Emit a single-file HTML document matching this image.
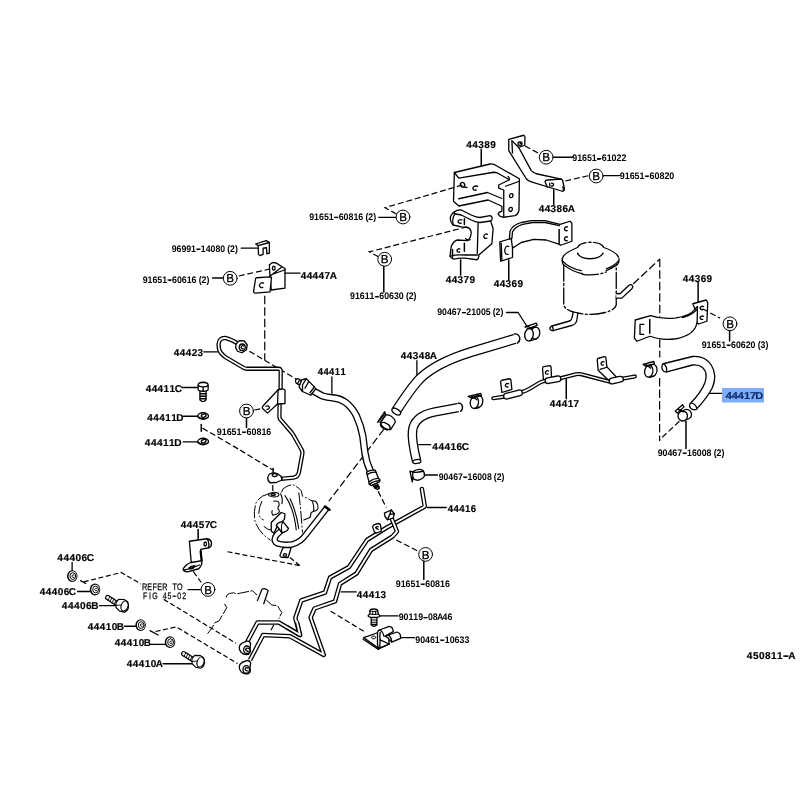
<!DOCTYPE html>
<html lang="en"><head><meta charset="utf-8"><title>Parts diagram 450811-A</title>
<style>
html,body{margin:0;padding:0;background:#fff;}
body{width:800px;height:800px;overflow:hidden;}
svg{display:block;will-change:transform;}
text{font-family:"Liberation Sans",sans-serif;fill:#000;text-rendering:geometricPrecision;}
.big{font-size:10px;font-weight:bold;stroke:#000;stroke-width:0.15px;}
.sm{font-size:9.5px;font-weight:bold;}
.mono{font-size:9.4px;stroke:#000;stroke-width:0.25px;}
.bl{font-size:11.6px;text-anchor:middle;stroke:#000;stroke-width:0.3px;}
.l{fill:none;stroke:#000;stroke-width:1.3;stroke-linecap:round;stroke-linejoin:round;vector-effect:non-scaling-stroke;}
.f{fill:#fff;stroke:#000;stroke-width:1.3;stroke-linecap:round;stroke-linejoin:round;vector-effect:non-scaling-stroke;}
.d{fill:none;stroke:#000;stroke-width:1.2;stroke-dasharray:6 2.8;vector-effect:non-scaling-stroke;}
.hy{fill:none;stroke:#000;stroke-linecap:butt;}
.ph{fill:none;stroke:#000;stroke-width:1;stroke-dasharray:12 1.6;stroke-linecap:butt;stroke-linejoin:round;vector-effect:non-scaling-stroke;}
.g path,.g circle,.g ellipse,.g line,.g polyline,.g polygon,.g rect{vector-effect:non-scaling-stroke;}
.t{fill:none;stroke:#000;stroke-linecap:butt;stroke-linejoin:round;vector-effect:non-scaling-stroke;}
.w{fill:none;stroke:#fff;stroke-linecap:butt;stroke-linejoin:round;vector-effect:non-scaling-stroke;}
</style></head><body>
<svg width="800" height="800" viewBox="0 0 800 800">
<rect width="800" height="800" fill="#fff"/>
<!-- 10_44389 -->
<g transform="translate(440 120) scale(0.125)">
<path class="l" style="stroke-width:1.5" d="M330 235V365"/>
<path class="f" d="M115 420L400 352Q430 348 455 368L635 470L632 720Q625 755 600 765L510 778Q475 775 465 750Q470 735 495 730L495 690L385 640L150 688L108 650Z"/>
<path class="l" d="M115 420L150 465L430 418Q455 418 470 430L555 478Q558 465 545 452"/>
<path class="l" d="M555 478L470 520L470 545L510 560L510 770"/>
<path class="l" d="M525 530L635 490"/>
<path class="l" d="M150 630L380 580L495 628"/>
<ellipse class="l" cx="180" cy="518" rx="17" ry="19" transform="rotate(-30 180 518)"/><path class="l" d="M185 535L215 540"/>
<path class="l" d="M300 530Q270 522 262 545Q265 565 290 560"/>
<ellipse class="l" cx="570" cy="605" rx="13" ry="17" transform="rotate(20 570 605)"/>
<ellipse class="l" cx="565" cy="715" rx="13" ry="17" transform="rotate(20 565 715)"/>
</g>
<!-- 11_44386A -->
<g transform="translate(500 130) scale(0.125)">
<path class="f" d="M70 75L190 42Q200 45 200 58L198 122L150 140L250 325Q262 340 290 350L490 393Q500 395 503 410L515 470Q515 490 498 490L250 415Q225 408 210 390L70 165Z"/>
<path class="l" d="M95 85L100 185M95 85L150 140"/>
<path class="l" d="M490 393L380 400Q362 400 360 412L378 458"/>
<ellipse class="l" cx="160" cy="110" rx="16" ry="14"/>
<path class="l" d="M160 104L170 110"/>
<path class="l" d="M398 425V448M412 425Q432 428 428 440Q424 452 410 448"/>
<path class="l" d="M500 455Q512 465 505 478"/>
<path class="l" style="stroke-width:1.5" d="M430 480V595"/>
<path class="d" d="M200 128L320 192"/>
<path class="d" d="M522 408L710 365"/>
<path class="l" d="M430 218H580"/>
<path class="l" d="M780 232H800"/>
</g>
<!-- 12_44379 -->
<g transform="translate(430 200) scale(0.125)">
<path class="f" d="M195 95Q220 75 250 80L330 120Q370 140 400 140L480 125Q497 128 497 148Q497 162 485 168L505 230L495 350L390 440Q395 465 375 478L280 465Q230 462 200 472Q175 475 160 450L170 370Q190 325 220 320L300 325Q325 310 330 262Q325 225 300 220L250 215L185 200Q155 170 165 130Q175 108 195 95Z"/>
<path class="l" d="M200 110Q225 115 250 120L330 160Q370 180 400 180L485 168"/>
<path class="l" d="M195 95Q190 105 200 110Q175 140 185 200"/>
<path class="l" d="M385 182L378 428"/>
<path class="l" d="M160 450Q200 435 280 440L380 440"/>
<path class="l" style="stroke-width:1.5" d="M275 150V195M275 345V410M180 395V455"/>
<path class="l" d="M255 160Q235 150 225 170Q225 190 250 185"/>
<path class="l" d="M240 392Q222 385 215 405Q218 422 238 415"/>
<path class="l" d="M460 275Q440 265 430 290Q432 312 455 305"/>
<path class="l" d="M285 310Q300 325 322 318"/>
<path class="l" style="stroke-width:1.5" d="M245 480V600"/>
</g>
<!-- 13_44369a -->
<g transform="translate(490 200) scale(0.125)">
<path class="f" d="M78 335L155 312L160 250Q180 200 250 180L330 165L440 165L560 195L640 170L655 185L655 330L565 362L555 355L450 320L350 315L250 340L180 385L180 460L85 490Z"/>
<path class="l" d="M155 312L170 308L180 385M175 308L180 255Q200 215 260 195L340 180L440 180L555 205"/>
<path class="l" d="M90 345L95 482"/>
<path class="l" style="stroke-width:1.5" d="M553 235V345"/>
<path class="l" d="M150 372Q125 360 118 400Q118 440 145 435"/>
<path class="l" d="M620 215Q600 210 595 232Q600 250 618 245"/>
<path class="l" d="M620 295Q600 290 595 312Q600 330 618 325"/>
<path class="l" style="stroke-width:1.5" d="M150 480V640"/>
</g>
<!-- 14_reservoir -->
<g transform="translate(540 240) scale(0.125)">
<path class="l" style="stroke-dasharray:16 2.5 2 2.5" d="M190 200V520Q200 560 280 580Q400 610 520 580Q600 560 610 520V200"/>
<path class="l" style="stroke-dasharray:30 2.5 2 2.5" d="M178 150Q180 110 300 60Q320 20 400 18Q490 18 510 60Q625 100 632 150"/>
<path class="l" d="M178 150Q175 175 185 195Q250 250 340 270M632 150Q635 175 620 195Q580 225 530 245"/>
<path class="l" style="stroke-dasharray:16 2.5 2 2.5" d="M340 275Q440 290 530 255"/>
<path class="l" d="M178 165Q230 225 330 245M630 165Q600 205 530 230"/>
<path class="l" d="M300 105Q320 150 400 150Q480 150 505 105"/>
<path class="f" d="M610 428L640 430L712 362Q730 350 740 368Q745 380 735 390L655 465L610 465"/>
<path class="f" d="M265 580L255 625Q250 645 230 650L95 688Q75 695 80 712Q85 728 105 725L260 682Q290 670 295 640L302 590"/>
<path class="l" d="M95 688Q108 705 105 725"/>
<path class="d" style="stroke-dasharray:8 3" d="M745 352L957 154"/>
</g>
<!-- 15_44369b -->
<g transform="translate(620 270) scale(0.125)">
<path class="d" style="stroke-dasharray:8.5 3" d="M318 -90V700"/>
<path class="f" d="M122 400L245 365Q330 395 440 385Q560 370 600 312L582 270L690 240L702 262L695 410L630 432L615 422Q600 520 450 550Q330 565 240 530L135 570L115 545Z"/>
<path class="l" style="stroke-width:1.5" d="M238 395V505"/>
<path class="l" d="M500 380Q575 360 612 318M600 312L620 292L617 425"/>
<path class="l" d="M190 435H160V515H190"/>
<path class="l" d="M668 292Q650 285 640 302Q642 320 662 318"/>
<path class="l" d="M668 370Q650 363 640 380Q642 398 662 395"/>
<path class="l" style="stroke-width:1.5" d="M625 100V255"/>
<path class="d" d="M660 310L800 385"/>
</g>
<!-- 16_44417D -->
<g transform="translate(630 340) scale(0.125)">
<path class="f" d="M265 190L500 132Q600 125 650 200Q700 280 660 380Q620 460 530 555Q505 565 485 545Q470 525 480 510Q570 420 600 340Q625 260 580 220Q550 195 500 200L295 255Q265 260 255 225Q255 195 265 190Z"/>
<path class="l" d="M270 190Q300 215 292 255"/>
<path class="l" d="M490 503Q530 515 535 550"/>
<path class="l" d="M640 427H740"/>
<g id="clipA">
<ellipse class="f" cx="182" cy="243" rx="34" ry="48" transform="rotate(8 182 243)"/>
<ellipse class="f" cx="150" cy="250" rx="33" ry="48" transform="rotate(8 150 250)"/>
<path class="l" d="M150 202L185 195M155 298L188 291"/>
<path class="l" d="M105 195L190 172L195 190L128 212ZM125 192L165 225"/>
</g>
<g id="clipB">
<ellipse class="f" cx="452" cy="595" rx="40" ry="40"/>
<ellipse class="f" cx="422" cy="608" rx="38" ry="40"/>
<path class="l" d="M362 570L420 518L432 535L378 585ZM385 555L430 575"/>
</g>
<path class="l" style="stroke-width:1.5" d="M448 650V868"/>
<path class="d" d="M395 650L235 800"/>
</g>
<!-- 17_44417 -->
<g>
<g transform="translate(460 340) scale(0.125)">
<path class="f" d="M325 335Q325 325 335 322L395 310Q405 310 407 320L415 395L335 420Z"/>
<path class="l" d="M390 350Q370 342 362 362Q365 380 385 375"/>
<path class="f" d="M660 225Q660 215 670 213L718 205Q727 205 728 215L732 300L668 322Z"/>
<path class="l" d="M708 248Q690 240 683 260Q686 278 704 272"/>
</g>
<g transform="translate(540 340) scale(0.125)">
<path class="f" d="M458 158Q458 148 468 146L515 133Q525 132 527 142L535 215L612 298L548 322L465 242Z"/>
<path class="l" d="M480 235L535 218"/>
<path class="l" d="M512 175Q495 168 488 188Q491 205 508 200"/>
<path class="l" style="stroke-width:1.5" d="M210 315V470"/>
</g>
<path class="t" style="stroke-width:4.10;stroke-linecap:round" d="M493.3 398.2L505 396.6L521 392.3Q526 391 530 388.5L540 382.5Q543 381 547 380.6L559.4 378.6L576 374.2Q579 373.6 582 374.4L609 381.6L622 378.8L634.8 376.4"/><path class="w" style="stroke-width:1.50;stroke-linecap:round" d="M493.3 398.2L505 396.6L521 392.3Q526 391 530 388.5L540 382.5Q543 381 547 380.6L559.4 378.6L576 374.2Q579 373.6 582 374.4L609 381.6L622 378.8L634.8 376.4"/>
<path class="t" style="stroke-width:7.00;stroke-linecap:round" d="M506.5 396.2L519.5 392.8"/><path class="w" style="stroke-width:4.40;stroke-linecap:round" d="M506.5 396.2L519.5 392.8"/>
<path class="t" style="stroke-width:7.00;stroke-linecap:round" d="M548 380.6L558 378.8"/><path class="w" style="stroke-width:4.40;stroke-linecap:round" d="M548 380.6L558 378.8"/>
<path class="t" style="stroke-width:7.00;stroke-linecap:round" d="M612 381L620.5 379.2"/><path class="w" style="stroke-width:4.40;stroke-linecap:round" d="M612 381L620.5 379.2"/>
<g transform="translate(460 340) scale(0.125)">
<ellipse class="f" cx="148" cy="492" rx="34" ry="48" transform="rotate(8 148 492)"/>
<ellipse class="f" cx="115" cy="500" rx="33" ry="48" transform="rotate(8 115 500)"/>
<path class="l" d="M115 452L150 445M120 548L153 540"/>
<path class="l" d="M65 452L165 428L172 445L95 465ZM90 448L135 478"/>
</g>
</g>
<!-- 18_hoses -->
<g>
<path class="t" style="stroke-width:10.30;stroke-linecap:butt" d="M396 411.2Q411 388 420 378.5Q436 363 470 352.3L515 338.9"/><path class="w" style="stroke-width:7.70;stroke-linecap:square" d="M396 411.2Q411 388 420 378.5Q436 363 470 352.3L515 338.9"/>
<path class="f" transform="translate(450 290) scale(0.125)" d="M515 352Q545 348 558 380Q562 410 540 425"/>
<ellipse class="f" cx="396.2" cy="411.6" rx="4.9" ry="2.6" transform="rotate(32 396.2 411.6)"/>
<path class="l" transform="translate(370 320) scale(0.125)" d="M375 325V440"/>
<path class="t" style="stroke-width:9.60;stroke-linecap:butt" d="M458 407.6L435 411.9Q414 416 412.5 431Q411.5 440 416.6 461"/><path class="w" style="stroke-width:7.00;stroke-linecap:square" d="M458 407.6L435 411.9Q414 416 412.5 431Q411.5 440 416.6 461"/>
<path class="f" transform="translate(380 390) scale(0.125)" d="M625 106Q650 100 660 130Q662 160 645 171"/>
<ellipse class="f" cx="416.8" cy="461.5" rx="4.2" ry="2" transform="rotate(-10 416.8 461.5)"/>
<path class="l" transform="translate(380 390) scale(0.125)" d="M310 437H405"/>
<g transform="translate(450 290) scale(0.125)">
<path class="l" d="M452 180H545L615 290"/>
<ellipse class="f" cx="682" cy="345" rx="36" ry="48" transform="rotate(8 682 345)"/>
<ellipse class="f" cx="632" cy="358" rx="34" ry="50" transform="rotate(8 632 358)"/>
<path class="l" d="M632 308L685 297M640 408L690 392"/>
<path class="l" d="M600 295L690 265L698 282L625 308ZM612 285L660 310"/>
</g>
<g transform="translate(380 390) scale(0.125)">
<path class="f" d="M262 655Q300 625 340 640Q360 660 355 690Q340 715 300 722Q270 720 262 700Z"/>
<path class="l" d="M262 655Q285 665 345 650M240 650L258 735L265 700M240 650L262 655"/>
<path class="l" d="M355 680H460"/>
</g>
</g>
<!-- 19_44447A -->
<g transform="translate(220 230) scale(0.125)">
<path class="l" d="M170 145H300"/>
<path class="f" d="M285 112L370 85L395 100L395 185L375 190L372 142L345 145L345 195L320 205L308 195L305 125Z"/>
<path class="l" d="M305 125L395 100"/>
<path class="d" d="M150 368L410 310"/>
<path class="f" d="M395 280Q420 250 450 265L520 308L520 465L410 480L400 375Z"/>
<path class="l" d="M405 360L520 318M400 375L412 360L490 300"/>
<ellipse class="l" cx="430" cy="305" rx="11" ry="15"/>
<path class="f" d="M285 388Q285 383 295 382L400 375L412 380L400 495L285 505Q270 505 268 495Z"/>
<path class="l" d="M348 425Q325 415 315 440Q318 465 342 460"/>
<path class="l" d="M520 345H640"/>
<path class="d" style="stroke-dasharray:8.5 3" d="M358 525V1040"/>
</g>
<!-- 20_44423 -->
<g>
<g transform="translate(200 330) scale(0.125)">
<path class="d" d="M395 170L800 410"/>
<path class="l" d="M30 175H140"/>
</g>
<path class="t" style="stroke-width:4.30;stroke-linecap:butt" d="M237 343L232.5 340.6Q228 338.4 225 337.8Q219 338 218.6 344Q218.5 350 221 353Q223 355.5 226 357.5L243 367.5Q245 368.75 247 368.75L278.5 368.75Q280.7 368.8 280.7 371L280.6 390"/><path class="w" style="stroke-width:1.70;stroke-linecap:square" d="M237 343L232.5 340.6Q228 338.4 225 337.8Q219 338 218.6 344Q218.5 350 221 353Q223 355.5 226 357.5L243 367.5Q245 368.75 247 368.75L278.5 368.75Q280.7 368.8 280.7 371L280.6 390"/>
<path class="t" style="stroke-width:4.30;stroke-linecap:butt" d="M279.6 404L279.4 417Q279.4 418.3 280.3 419.4L292 433Q293 434.3 293.8 435.8L301.5 449.5Q302.8 451.5 302.4 453.5L299 472Q298 477 293.5 477.6L281 478.8"/><path class="w" style="stroke-width:1.70;stroke-linecap:square" d="M279.6 404L279.4 417Q279.4 418.3 280.3 419.4L292 433Q293 434.3 293.8 435.8L301.5 449.5Q302.8 451.5 302.4 453.5L299 472Q298 477 293.5 477.6L281 478.8"/>
<g transform="translate(200 330) scale(0.125)">
<path class="f" d="M625 478L500 612Q495 625 505 632L540 665L620 592L680 588L680 482Q670 470 655 472Z"/>
<path class="l" d="M625 478L620 592"/>
<path class="l" d="M528 610Q548 600 555 620Q552 638 535 635"/>
<path class="d" d="M435 640L495 628"/>
<path class="l" style="stroke-width:1.5" d="M372 705V780"/>
<g>
<path class="f" d="M290 110L315 85L355 88L378 120L370 160L335 182L300 170L285 140Z"/>
<ellipse class="l" cx="338" cy="138" rx="24" ry="26"/>
<path class="l" d="M350 128Q335 120 328 138Q330 152 345 150"/>
</g>
</g>
<g transform="translate(240 400) scale(0.125)">
<path class="d" d="M0 400L262 560"/>
<path class="l" style="stroke-width:1.5" d="M265 548V590"/>
<path class="f" d="M240 590Q270 575 300 590L330 612L335 640L290 660L240 662Q222 650 222 620Q225 598 240 590Z"/>
<ellipse class="l" cx="278" cy="600" rx="20" ry="12"/>
<path class="l" d="M330 612Q340 625 335 640"/>
<path class="d" d="M262 680V745"/>
</g>
</g>
<!-- 21_44411 -->
<g>
<path class="d" style="stroke-dasharray:7.5 3.2" transform="translate(330 400) scale(0.125)" d="M430 235L-10 810"/>
<path class="l" transform="translate(290 360) scale(0.125)" d="M335 135V265"/>
<path class="t" style="stroke-width:7.40;stroke-linecap:butt" d="M312.5 390.5L322.5 396Q327 397.5 332.5 397.8Q340 398.5 345 402Q352 407 356.5 416Q361 426 362.8 436L364.8 452Q366 462 370.8 472"/><path class="w" style="stroke-width:4.80;stroke-linecap:square" d="M312.5 390.5L322.5 396Q327 397.5 332.5 397.8Q340 398.5 345 402Q352 407 356.5 416Q361 426 362.8 436L364.8 452Q366 462 370.8 472"/>
<g transform="translate(290 360) scale(0.125)">
<path class="f" d="M45 160Q55 145 70 152L95 170L75 200L50 185Q40 172 45 160Z"/>
<path class="f" d="M95 158L130 150L195 215L205 232L165 282L100 252L72 215Z"/>
<path class="l" d="M130 150L100 200L100 252M150 172L120 225M195 215L160 262"/>
<path class="l" d="M78 158L60 190"/>
</g>
<g transform="translate(330 400) scale(0.125)">
<path class="f" d="M292 578Q325 555 362 562L388 628L400 640L395 655L330 685L312 672L312 655Z"/>
<path class="l" d="M312 655Q350 625 388 628M318 672Q355 645 398 645M300 595Q330 575 368 578"/>
<path class="f" d="M345 680L375 668L395 705L380 715L360 705Z"/>
<path class="l" d="M350 692L385 680M358 702L392 692" style="stroke-width:1.6"/>
</g>
</g>
<!-- 22_pump -->
<g transform="translate(240 470) scale(0.125)">
<path class="d" style="stroke-dasharray:5 2.6" d="M-100 654L480 765M400 700L485 770"/>
<g>
<path class="ph" style="stroke-dasharray:13 1.8 2 1.8" d="M230 190Q160 205 130 260Q105 330 120 410Q150 500 245 562"/>
<path class="ph" style="stroke-dasharray:13 1.8 2 1.8" d="M330 180L345 150Q380 120 420 118Q450 125 490 165L500 210Q540 225 570 245"/>
<path class="ph" style="stroke-dasharray:13 1.8 2 1.8" d="M470 180Q485 300 500 500"/>
<path class="ph" style="stroke-dasharray:13 1.8 2 1.8" d="M175 250Q150 300 150 350Q160 390 190 400M190 450Q220 480 250 480"/>
</g>
<path class="l" style="stroke-width:1.1" d="M230 190Q265 170 305 185Q320 200 300 212Q260 222 230 205Z"/>
<ellipse class="l" cx="265" cy="196" rx="18" ry="8"/>
<path class="l" style="stroke-width:1.1" d="M325 190Q345 230 335 270M360 205Q430 300 450 480M400 230Q450 330 470 470"/>
<path class="l" style="stroke-width:1.1" d="M270 250Q320 238 312 285Q295 310 312 320Q325 350 262 362Q250 340 258 325"/>
<path class="l" style="stroke-width:1.1" d="M570 245L605 250Q625 270 625 305Q615 330 590 330L570 340L560 380L510 400"/>
<path class="l" style="stroke-width:1.1" d="M580 255Q595 290 588 330"/>
<path class="f" d="M345 620L410 618L385 700L330 698Q315 692 322 675Z"/>
<ellipse class="l" cx="360" cy="680" rx="13" ry="11"/>
</g>
<path class="t" style="stroke-width:6.40;stroke-linecap:butt" d="M282.5 529.5L276.5 535Q272.5 540.5 277 543.3Q282 545.5 292 544.5Q301 542 306 534.5L327 507.8"/><path class="w" style="stroke-width:3.80;stroke-linecap:square" d="M282.5 529.5L276.5 535Q272.5 540.5 277 543.3Q282 545.5 292 544.5Q301 542 306 534.5L327 507.8"/>
<g transform="translate(240 470) scale(0.125)">
<path class="l" style="stroke-width:2.6" d="M680 292L715 318"/>
<path class="f" d="M250 420L330 340L360 350L355 395L300 445L272 505L250 490Z"/>
<path class="f" d="M290 440Q310 410 345 415L388 468Q375 495 335 502Z"/>
<path class="l" style="stroke-width:1.1" d="M345 415Q325 430 335 502"/>
</g>
<!-- 23_pipes -->
<g>
<g transform="translate(200 560) scale(0.125)">
<g>
<path class="ph" d="M210 300Q210 275 235 268L270 262L290 272L420 245L455 280"/>
<path class="ph" d="M530 320L575 360L620 365L640 400L655 420L630 470"/>
<path class="ph" d="M195 350L215 380L180 440L150 490L120 500L95 545L60 590"/>
</g>
<path class="l" d="M460 325L495 235Q515 218 545 245L510 350"/>
<path class="d" d="M590 520L560 578"/>
</g>
<g transform="translate(350 470) scale(0.125)">
<path class="d" d="M225 170L290 300"/>
<path class="d" style="stroke-dasharray:6 2.8" d="M370 560L545 650"/>
<path class="l" d="M620 300H770"/>
</g>
<g transform="translate(270 540) scale(0.125)">
<path class="l" d="M570 415H690"/>
<path class="d" style="stroke-dasharray:5.5 2.8" d="M485 570L750 730"/>
</g>
<path class="t" style="stroke-width:4.50;stroke-linecap:round" d="M421.9 489L424.8 506.5L386 528L367 540L349 567L330 577.5L325 592.5L301.3 600.5L295.3 618L300 635L278.8 622.5L257.5 622.5L247.5 641.3"/><path class="w" style="stroke-width:1.90;stroke-linecap:round" d="M421.9 489L424.8 506.5L386 528L367 540L349 567L330 577.5L325 592.5L301.3 600.5L295.3 618L300 635L278.8 622.5L257.5 622.5L247.5 641.3"/>
<path class="f" transform="translate(350 470) scale(0.125)" d="M180 455Q185 440 200 435L230 428Q242 430 245 445L250 490L210 505L195 495Z"/>
<path class="l" transform="translate(350 470) scale(0.125)" d="M225 455Q210 450 205 462Q215 470 225 475"/>
<path class="t" style="stroke-width:4.50;stroke-linecap:butt" d="M390 514.4L397 531.5L392.5 536.5L371 550L356.5 573.5L340 583.8L335 601.3L314.5 608.5L310.6 617.5L323.8 655L290 636.3L263.1 635L250 660"/><path class="w" style="stroke-width:1.90;stroke-linecap:square" d="M390 514.4L397 531.5L392.5 536.5L371 550L356.5 573.5L340 583.8L335 601.3L314.5 608.5L310.6 617.5L323.8 655L290 636.3L263.1 635L250 660"/>
<path class="t" style="stroke-width:4.50;stroke-linecap:butt" d="M297 622L300 635L286 626.7"/><path class="w" style="stroke-width:1.90;stroke-linecap:square" d="M297 622L300 635L286 626.7"/>
<g transform="translate(350 470) scale(0.125)">
<path class="f" d="M275 345L330 320L355 350L345 385L300 398L280 372Z"/>
<path class="l" d="M330 320L318 355L300 398M318 355L355 350"/>
</g>
<g transform="translate(230 590) scale(0.125)">
<path class="f" d="M120 415Q150 400 165 425L160 470Q170 500 145 515Q110 520 90 500Q65 470 80 440Q95 420 120 415Z"/>
<ellipse class="l" cx="135" cy="478" rx="26" ry="30"/>
<path class="l" d="M150 468Q135 458 125 475Q128 492 145 490"/>
<path class="f" d="M120 570Q150 555 165 580L160 625Q170 655 145 670Q110 675 90 655Q65 625 80 595Q95 575 120 570Z"/>
<ellipse class="l" cx="130" cy="635" rx="26" ry="30"/>
<path class="l" d="M145 625Q130 615 120 632Q123 649 140 647"/>
</g>
</g>
<!-- 24_bolts1 -->
<g transform="translate(140 370) scale(0.125)">
<path class="l" d="M335 140H465M345 370H460M345 575H460"/>
<path class="f" d="M480 160H528V240Q505 265 480 240Z"/>
<path class="l" d="M480 190H528M480 210H528M480 230H528" style="stroke-width:1.5"/>
<path class="f" d="M465 120Q465 100 505 98Q545 100 545 120V155Q545 168 505 170Q465 168 465 155Z"/>
<path class="l" d="M465 125Q505 145 545 125M505 138V168"/>
<ellipse class="f" cx="505" cy="368" rx="43" ry="26"/>
<ellipse class="l" cx="510" cy="365" rx="20" ry="12" transform="rotate(-20 510 365)"/>
<path class="l" d="M465 375Q500 400 545 378"/>
<ellipse class="f" cx="505" cy="572" rx="43" ry="26"/>
<ellipse class="l" cx="510" cy="569" rx="20" ry="12" transform="rotate(-20 510 569)"/>
<path class="l" d="M465 579Q500 604 545 582"/>
<path class="l" style="stroke-width:1.5" d="M490 435V490"/>
<path class="d" d="M500 465L800 640"/>
</g>
<!-- 25_44457C -->
<g transform="translate(150 510) scale(0.125)">
<path class="l" style="stroke-width:1.5" d="M385 155V235"/>
<path class="d" d="M345 490L410 580"/>
<path class="l" d="M305 637H405"/>
<path class="f" d="M265 470Q290 430 340 415L415 405Q420 440 390 470L300 495Q265 495 265 470Z"/>
<path class="f" d="M315 250L455 230Q490 235 492 265Q492 295 470 302L405 315L415 405L330 420Z"/>
<path class="l" d="M455 230Q475 250 470 302"/>
<ellipse class="l" cx="442" cy="272" rx="10" ry="16"/>
<path class="l" style="stroke-width:2.2" d="M405 330L412 400"/>
<path class="l" d="M310 465Q330 445 360 448Q350 470 320 472ZM275 480Q320 470 395 440"/>
</g>
<!-- 26_bolts2 -->
<g>
<g transform="translate(30 540) scale(0.125)">
<path class="l" d="M337 180V248M380 412H478M555 525H700"/>
<path class="d" style="stroke-dasharray:5 2.6" d="M430 335L730 260L888 352"/><path class="l" d="M405 325L445 348"/>
</g>
<g transform="translate(110 590) scale(0.125)">
<path class="l" d="M115 290H205M320 435H440M425 590H665"/>
<path class="d" style="stroke-dasharray:5 2.6" d="M365 332L530 295L1020 588"/><path class="l" d="M320 325L385 360"/>
<path class="d" style="stroke-dasharray:5 2.6" d="M430 75L1008 426"/>
</g>
<ellipse cx="72.25" cy="576.10" rx="5.25" ry="5.9" fill="#000"/><ellipse cx="72.60" cy="576.10" rx="4.05" ry="4.8" fill="#fff"/><ellipse class="l" cx="72.85" cy="576.10" rx="2.9" ry="3.4" style="stroke-width:0.95"/><path class="l" style="stroke-width:0.9" d="M74.2 574.9Q72.7 574.0 71.8 576.1Q72.0 577.9 74.0 577.4"/>
<ellipse cx="95.00" cy="589.50" rx="5.25" ry="5.9" fill="#000"/><ellipse cx="95.35" cy="589.50" rx="4.05" ry="4.8" fill="#fff"/><ellipse class="l" cx="95.60" cy="589.50" rx="2.9" ry="3.4" style="stroke-width:0.95"/><path class="l" style="stroke-width:0.9" d="M96.9 588.3Q95.4 587.4 94.6 589.5Q94.8 591.3 96.7 590.8"/>
<path class="t" style="stroke-width:5.30;stroke-linecap:round" d="M107.7 597.6L118.3 604.4"/><path class="w" style="stroke-width:3.00;stroke-linecap:round" d="M107.7 597.6L118.3 604.4"/><path class="l" style="stroke-width:0.9" d="M109.9 596.4L108.1 600.3M111.9 597.7L110.1 601.6M113.9 599.0L112.1 602.9M115.9 600.3L114.1 604.2M117.9 601.6L116.1 605.5"/><path class="f" style="stroke-width:1.15" d="M115.9 602.9L118.5 599.3L124.3 599.5Q128.5 602.1 128.5 606.4Q128.2 610.7 124.5 612.1L119.7 611.1L116.1 607.5Z"/><ellipse class="l" cx="124.6" cy="605.9" rx="3.4" ry="5.3" style="stroke-width:1.05" transform="rotate(22 124.6 605.9)"/><path class="l" style="stroke-width:0.9" d="M116.3 605.3L121.2 605.0"/>
<ellipse cx="140.60" cy="625.10" rx="5.25" ry="5.9" fill="#000"/><ellipse cx="140.95" cy="625.10" rx="4.05" ry="4.8" fill="#fff"/><ellipse class="l" cx="141.20" cy="625.10" rx="2.9" ry="3.4" style="stroke-width:0.95"/><path class="l" style="stroke-width:0.9" d="M142.5 623.9Q141.0 623.0 140.2 625.1Q140.4 626.9 142.3 626.4"/>
<ellipse cx="170.00" cy="642.20" rx="5.25" ry="5.9" fill="#000"/><ellipse cx="170.35" cy="642.20" rx="4.05" ry="4.8" fill="#fff"/><ellipse class="l" cx="170.60" cy="642.20" rx="2.9" ry="3.4" style="stroke-width:0.95"/><path class="l" style="stroke-width:0.9" d="M171.9 641.0Q170.4 640.1 169.6 642.2Q169.8 644.0 171.7 643.5"/>
<path class="t" style="stroke-width:5.30;stroke-linecap:round" d="M183.7 653.7L194.3 660.5"/><path class="w" style="stroke-width:3.00;stroke-linecap:round" d="M183.7 653.7L194.3 660.5"/><path class="l" style="stroke-width:0.9" d="M185.9 652.5L184.1 656.4M187.9 653.8L186.1 657.7M189.9 655.1L188.1 659.0M191.9 656.4L190.1 660.3M193.9 657.7L192.1 661.6"/><path class="f" style="stroke-width:1.15" d="M191.9 659.0L194.5 655.4L200.3 655.6Q204.5 658.2 204.5 662.5Q204.2 666.8 200.5 668.2L195.7 667.2L192.1 663.6Z"/><ellipse class="l" cx="200.6" cy="662.0" rx="3.4" ry="5.3" style="stroke-width:1.05" transform="rotate(22 200.6 662.0)"/><path class="l" style="stroke-width:0.9" d="M192.3 661.4L197.2 661.1"/>
</g>
<!-- 27_clip90461 -->
<g transform="translate(340 580) scale(0.125)">
<path class="l" d="M320 287H465"/>
<path class="f" d="M250 295H295V360Q272 380 250 360Z"/>
<path class="l" style="stroke-width:1.1" d="M250 320H295M250 338H295M250 355H295"/>
<path class="f" d="M240 245Q242 232 270 232Q298 232 302 245L305 272L320 285Q320 298 272 300Q225 298 225 285L238 272Z"/>
<path class="l" style="stroke-width:1" d="M238 272Q270 282 305 272M262 250V276M285 250V276M240 248Q270 258 302 248"/>
</g>
<g transform="translate(355 620) scale(0.075)">
<path class="l" d="M610 235H795"/>
<path class="f" d="M115 235L300 170L460 320L318 382Z"/>
<path class="l" d="M108 256L312 394L320 382"/>
<path class="l" style="stroke-width:1" d="M262 215Q232 205 215 232Q225 258 262 250Q280 240 275 225"/>
<path class="f" d="M400 215L450 200L560 160Q595 170 605 200L608 245L490 295Z"/>
<path class="l" d="M450 200Q485 230 490 295"/>
<path class="f" d="M300 330L300 165Q305 135 335 130L455 85Q495 90 505 125L510 155L400 215L450 245L455 320L335 265L330 375L315 380Z"/>
<path class="l" d="M335 130Q375 160 388 218M335 165Q328 210 335 265M455 320L330 375"/>
</g>
<!-- 28_clip387 -->
<g transform="translate(360 390) scale(0.075)">
<path class="f" d="M275 435L340 335Q370 325 400 340Q470 380 470 430L410 525Q370 535 320 505Q275 470 275 435Z"/>
<ellipse class="l" cx="338" cy="482" rx="70" ry="38" transform="rotate(30 338 482)"/>
<path class="f" d="M235 428L328 290L345 335L272 425Z"/>
<path class="l" d="M262 400L325 330"/>
</g>
<!-- 30_leaders -->
<g>
<path class="l" d="M603.5 175.6H620"/>
<path class="l" d="M378.7 217.3H396"/>
<path class="d" d="M396.5 214L385 207.7L462.5 185"/>
<path class="l" style="stroke-width:1.5" d="M383.8 266.5V292"/>
<path class="d" d="M378.5 256.8L369.3 251.8L468 226.6"/>
<path class="l" d="M212.5 278H223.5"/>
<path class="l" style="stroke-width:1.5" d="M729.6 331V341"/>
<path class="l" style="stroke-width:1.5" d="M423.8 561V579.5"/>
<path class="d" style="stroke-dasharray:8.5 3" d="M659.6 378V441"/>
</g>
<rect x="722" y="388" width="42" height="14.5" fill="#80adf7"/>
<g>
<text class="big" transform="translate(466.5 148.1) scale(0.997 1)" x="-0.15 5.83 11.81 17.79 23.76" y="0">44389</text>
<text class="big" transform="translate(538.8 211.9) scale(1.001 1)" x="-0.15 5.83 11.81 17.79 23.76 28.91" y="0">44386A</text>
<text class="big" transform="translate(445.8 282.5) scale(1.001 1)" x="-0.15 5.83 11.81 17.79 23.76" y="0">44379</text>
<text class="big" transform="translate(493.8 286.9) scale(1.001 1)" x="-0.15 5.83 11.81 17.79 23.76" y="0">44369</text>
<text class="big" transform="translate(683.0 281.6) scale(0.994 1)" x="-0.15 5.83 11.81 17.79 23.76" y="0">44369</text>
<text class="big" transform="translate(300.8 278.8) scale(1.001 1)" x="-0.15 5.83 11.81 17.79 23.76 28.91" y="0">44447A</text>
<text class="big" transform="translate(174.0 356.0) scale(0.994 1)" x="-0.15 5.83 11.81 17.79 23.76" y="0">44423</text>
<text class="big" transform="translate(318.0 375.3) scale(0.943 1)" x="-0.15 5.83 11.81 17.79 23.76" y="0">44411</text>
<text class="big" transform="translate(145.8 392.2) scale(1.001 1)" x="-0.15 5.83 11.81 17.79 23.76 28.91" y="0">44411C</text>
<text class="big" transform="translate(147.5 420.6) scale(0.996 1)" x="-0.15 5.83 11.81 17.79 23.76 28.91" y="0">44411D</text>
<text class="big" transform="translate(145.0 445.6) scale(1.010 1)" x="-0.15 5.83 11.81 17.79 23.76 28.91" y="0">44411D</text>
<text class="big" transform="translate(401.0 359.4) scale(0.996 1)" x="-0.15 5.83 11.81 17.79 23.76 28.91" y="0">44348A</text>
<text class="big" transform="translate(550.0 406.9) scale(0.994 1)" x="-0.15 5.83 11.81 17.79 23.76" y="0">44417</text>
<text class="big" transform="translate(432.5 450.0) scale(1.010 1)" x="-0.15 5.83 11.81 17.79 23.76 28.91" y="0">44416C</text>
<text class="big" transform="translate(448.0 511.8) scale(0.960 1)" x="-0.15 5.83 11.81 17.79 23.76" y="0">44416</text>
<text class="big" transform="translate(357.0 597.6) scale(0.994 1)" x="-0.15 5.83 11.81 17.79 23.76" y="0">44413</text>
<text class="big" transform="translate(181.0 527.6) scale(0.996 1)" x="-0.15 5.83 11.81 17.79 23.76 28.91" y="0">44457C</text>
<text class="big" transform="translate(57.5 560.6) scale(1.010 1)" x="-0.15 5.83 11.81 17.79 23.76 28.91" y="0">44406C</text>
<text class="big" transform="translate(40.0 594.8) scale(0.996 1)" x="-0.15 5.83 11.81 17.79 23.76 28.91" y="0">44406C</text>
<text class="big" transform="translate(62.0 609.1) scale(1.010 1)" x="-0.15 5.83 11.81 17.79 23.76 28.91" y="0">44406B</text>
<text class="big" transform="translate(88.0 629.7) scale(0.996 1)" x="-0.15 5.83 11.81 17.79 23.76 28.91" y="0">44410B</text>
<text class="big" transform="translate(115.0 646.3) scale(0.996 1)" x="-0.15 5.83 11.81 17.79 23.76 28.91" y="0">44410B</text>
<text class="big" transform="translate(127.0 666.6) scale(0.996 1)" x="-0.15 5.83 11.81 17.79 23.76 28.91" y="0">44410A</text>
<text class="big" transform="translate(747.0 658.8) scale(1.010 1)" x="-0.15 5.83 11.81 17.79 23.76 29.74 36.84 40.87" y="0">450811-A</text><path class="hy" style="stroke-width:1.35" d="M783.23 656.10H788.57"/>
<text class="big" transform="translate(726.0 398.8) scale(1.101 1)" x="-0.33 5.23 10.79 16.35 21.91 26.64" y="0" style="fill:#0a2a6a;stroke:#0a2a6a">44417D</text>
<text class="sm" transform="translate(572.5 161.2) scale(0.931 1)" x="-0.32 4.97 10.25 15.53 20.81 27.15 31.38 36.66 41.94 47.22 52.50" y="0">91651-61022</text><path class="hy" style="stroke-width:1.28" d="M597.14 158.63H601.36"/>
<text class="sm" transform="translate(620.0 178.7) scale(0.940 1)" x="-0.32 4.97 10.25 15.53 20.81 27.15 31.38 36.66 41.94 47.22 52.50" y="0">91651-60820</text><path class="hy" style="stroke-width:1.28" d="M644.87 176.13H649.13"/>
<text class="sm" transform="translate(309.5 219.9) scale(0.930 1)" x="-0.32 4.97 10.25 15.53 20.81 27.15 31.38 36.66 41.94 47.22 52.50 57.65 60.11 63.23 68.46" y="0">91651-60816 (2)</text><path class="hy" style="stroke-width:1.28" d="M334.13 217.33H338.34"/>
<text class="sm" transform="translate(172.0 251.7) scale(0.919 1)" x="-0.32 4.97 10.25 15.53 20.81 27.15 31.38 36.66 41.94 47.22 52.50 57.65 60.11 63.23 68.46" y="0">96991-14080 (2)</text><path class="hy" style="stroke-width:1.28" d="M196.34 249.13H200.49"/>
<text class="sm" transform="translate(143.0 282.5) scale(0.926 1)" x="-0.32 4.97 10.25 15.53 20.81 27.15 31.38 36.66 41.94 47.22 52.50 57.65 60.11 63.23 68.46" y="0">91651-60616 (2)</text><path class="hy" style="stroke-width:1.28" d="M167.52 279.94H171.71"/>
<text class="sm" transform="translate(350.3 299.4) scale(0.925 1)" x="-0.32 4.97 10.25 15.53 20.81 27.15 31.38 36.66 41.94 47.22 52.50 57.65 60.11 63.23 68.46" y="0">91611-60630 (2)</text><path class="hy" style="stroke-width:1.28" d="M374.78 296.83H378.97"/>
<text class="sm" transform="translate(437.5 315.2) scale(0.919 1)" x="-0.32 4.97 10.25 15.53 20.81 27.15 31.38 36.66 41.94 47.22 52.50 57.65 60.11 63.23 68.46" y="0">90467-21005 (2)</text><path class="hy" style="stroke-width:1.28" d="M461.84 312.63H465.99"/>
<text class="sm" transform="translate(702.0 347.7) scale(0.926 1)" x="-0.32 4.97 10.25 15.53 20.81 27.15 31.38 36.66 41.94 47.22 52.50 57.65 60.11 63.23 68.46" y="0">91651-60620 (3)</text><path class="hy" style="stroke-width:1.28" d="M726.52 345.13H730.71"/>
<text class="sm" transform="translate(658.0 455.7) scale(0.926 1)" x="-0.32 4.97 10.25 15.53 20.81 27.15 31.38 36.66 41.94 47.22 52.50 57.65 60.11 63.23 68.46" y="0">90467-16008 (2)</text><path class="hy" style="stroke-width:1.28" d="M682.52 453.13H686.71"/>
<text class="sm" transform="translate(439.0 479.7) scale(0.912 1)" x="-0.32 4.97 10.25 15.53 20.81 27.15 31.38 36.66 41.94 47.22 52.50 57.65 60.11 63.23 68.46" y="0">90467-16008 (2)</text><path class="hy" style="stroke-width:1.28" d="M463.15 477.13H467.27"/>
<text class="sm" transform="translate(217.0 434.7) scale(0.940 1)" x="-0.32 4.97 10.25 15.53 20.81 27.15 31.38 36.66 41.94 47.22 52.50" y="0">91651-60816</text><path class="hy" style="stroke-width:1.28" d="M241.87 432.13H246.13"/>
<text class="sm" transform="translate(396.0 586.7) scale(0.931 1)" x="-0.32 4.97 10.25 15.53 20.81 27.15 31.38 36.66 41.94 47.22 52.50" y="0">91651-60816</text><path class="hy" style="stroke-width:1.28" d="M420.64 584.13H424.86"/>
<text class="sm" transform="translate(399.0 620.2) scale(0.922 1)" x="-0.32 4.97 10.25 15.53 20.81 27.15 31.38 36.66 41.15 47.22 52.50" y="0">90119-08A46</text><path class="hy" style="stroke-width:1.28" d="M423.41 617.63H427.59"/>
<text class="sm" transform="translate(415.5 642.7) scale(0.931 1)" x="-0.32 4.97 10.25 15.53 20.81 27.15 31.38 36.66 41.94 47.22 52.50" y="0">90461-10633</text><path class="hy" style="stroke-width:1.28" d="M440.14 640.13H444.36"/>
<text class="mono" transform="translate(142.5 590.2) scale(0.767 1)" x="-0.52 6.27 13.07 19.34 25.61 34.23 39.20 44.95" y="0">REFER TO</text>
<text class="mono" transform="translate(143.0 598.6) scale(0.746 1)" x="0.00 8.10 12.28 21.17 26.39 32.93 40.51 45.99 52.53" y="0">FIG 45-02</text><path class="hy" style="stroke-width:0.85" d="M172.31 596.06H176.49"/>
<circle class="f" cx="546.2" cy="157.2" r="6.9" style="stroke-width:1"/><text class="bl" x="546.2" y="161.3">B</text>
<circle class="f" cx="596.2" cy="176.0" r="6.9" style="stroke-width:1"/><text class="bl" x="596.2" y="180.1">B</text>
<circle class="f" cx="403.0" cy="217.0" r="6.9" style="stroke-width:1"/><text class="bl" x="403.0" y="221.1">B</text>
<circle class="f" cx="384.7" cy="259.3" r="6.9" style="stroke-width:1"/><text class="bl" x="384.7" y="263.4">B</text>
<circle class="f" cx="230.2" cy="278.3" r="6.9" style="stroke-width:1"/><text class="bl" x="230.2" y="282.4">B</text>
<circle class="f" cx="246.5" cy="411.0" r="6.9" style="stroke-width:1"/><text class="bl" x="246.5" y="415.1">B</text>
<circle class="f" cx="730.0" cy="323.8" r="6.9" style="stroke-width:1"/><text class="bl" x="730.0" y="327.9">B</text>
<circle class="f" cx="425.6" cy="554.4" r="6.9" style="stroke-width:1"/><text class="bl" x="425.6" y="558.5">B</text>
<circle class="f" cx="208.0" cy="589.4" r="6.9" style="stroke-width:1"/><text class="bl" x="208.0" y="593.5">B</text>
</g>
</svg>
</body></html>
